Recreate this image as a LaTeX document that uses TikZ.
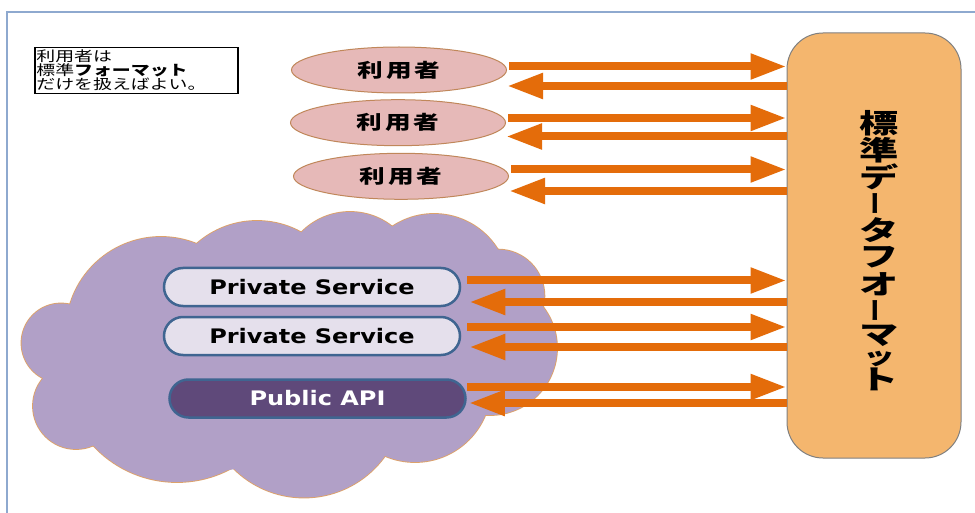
\documentclass[tikz,border=0pt]{standalone}
\usepackage{fontspec}
\usepackage{graphicx}
\usetikzlibrary{arrows.meta,shapes.geometric}

% Fonts: wide Gothic for the Japanese labels, DejaVu for the Latin ones
\newfontfamily\cjk[FakeStretch=1.35]{Noto Sans CJK JP}
\newfontfamily\cjkwide[FakeStretch=1.45]{Noto Sans CJK JP}
\newfontfamily\cjkplain{Noto Sans CJK JP}
\newfontfamily\latin[FakeStretch=1.2]{DejaVu Sans}

\definecolor{arrowc}{HTML}{E46C0A}
\definecolor{userfill}{HTML}{E6B9B8}
\definecolor{userline}{HTML}{C0875A}
\definecolor{fmtfill}{HTML}{F4B66E}
\definecolor{fmtline}{HTML}{808080}
\definecolor{cloudfill}{HTML}{B1A0C7}
\definecolor{cloudline}{HTML}{DDA26A}
\definecolor{svcfill}{HTML}{E5E0EC}
\definecolor{svcline}{HTML}{3F6591}
\definecolor{apifill}{HTML}{5F497A}
\definecolor{framec}{HTML}{8EA9CF}

% vertical long-vowel mark for the upright column
\newcommand\tatebar{\rotatebox[origin=c]{90}{\cjkplain\fontsize{24}{24}\selectfont ー}}
% one cell of the upright column: cell height, glyph
\newcommand\vcell[2]{\hbox to 44pt{\hss\vbox to #1{\vss\hbox{#2}\vss}\hss}}

% puffs of the cloud: centre x, centre y, radius
\newcommand\puffs{161/332/95, 257/312/91, 350/280/68, 434/289/75,
  498/296/46.4, 490/348/67, 415/386/76, 304/398/99.5, 177/368/114,
  76/406/43, 61/343/39.5}

\tikzset{
  user/.style={ellipse, draw=userline, fill=userfill, line width=1pt,
    minimum width=215pt, minimum height=46pt, inner sep=0pt,
    font=\cjk\bfseries\fontsize{19}{19}\selectfont},
  svc/.style={rectangle, rounded corners=19pt, draw=svcline, fill=svcfill,
    line width=2.5pt, minimum width=296pt, minimum height=38pt, inner sep=0pt,
    font=\latin\bfseries\fontsize{20}{20}\selectfont},
  api/.style={svc, fill=apifill, text=white},
  fmtbox/.style={rectangle, rounded corners=36pt, draw=fmtline, fill=fmtfill,
    line width=1pt, minimum width=174pt, minimum height=425pt},
  vtext/.style={inner sep=0pt,
    font=\cjkwide\bfseries\fontsize{27}{27}\selectfont},
  flow/.style={draw=arrowc, line width=8pt, -{Triangle[length=36pt,width=24pt]}},
  notebox/.style={draw, line width=1.2pt, anchor=north west, minimum width=203pt,
    minimum height=46.6pt, inner xsep=1pt, inner ysep=0pt, text width=200pt,
    align=left, font=\cjk\fontsize{14}{14}\selectfont}
}

\begin{document}
\begin{tikzpicture}[x=1pt,y=-1pt]
\useasboundingbox (0,0) rectangle (975,513);
\fill[white] (0,0) rectangle (975,513);

% page frame (top and left edges)
\draw[framec, line width=1.5pt] (975,12) -- (7,12) -- (7,513);

% note
\node[notebox] (note) at (34.3,46.7)
  {利用者は\\標準{\bfseries フォーマット}\\だけを扱えばよい。};

% cloud: stroke every puff, then fill them all so only the outer rim stays
\foreach \cx/\cy/\r in \puffs
  \draw[cloudline, line width=1.8pt] (\cx,\cy) circle[radius=\r];
\foreach \cx/\cy/\r in \puffs
  \fill[cloudfill] (\cx,\cy) circle[radius=\r];
\fill[cloudfill] (70,307) -- (196,244) -- (302,233) -- (392,227) -- (498,250)
  -- (542,312) -- (487,410) -- (377,455) -- (227,470) -- (95,446) -- (48,380)
  -- cycle;

% users
\node[user] (u1) at (399,70) {利\hspace{3pt}用\hspace{3pt}者};
\node[user] (u2) at (398,122.7) {利\hspace{3pt}用\hspace{3pt}者};
\node[user] (u3) at (401,176.3) {利\hspace{3pt}用\hspace{3pt}者};

% services inside the cloud
\node[svc] (ps1) at (312,287) {Private Service};
\node[svc] (ps2) at (312,336) {Private Service};
\node[api] (api) at (317.5,398.5) {Public API};

% standard data format
\node[fmtbox] (fmt) at (874,245.5) {};
\node[vtext, anchor=north] (fmttext) at (879,110) {\vbox{\offinterlineskip
  \vcell{26.7pt}{標}\vcell{26.7pt}{準}\vcell{26.7pt}{デ}\vcell{26.7pt}{\tatebar}%
  \vcell{26.7pt}{タ}\vcell{26.7pt}{フ}\vcell{26.7pt}{オ}\vcell{26.7pt}{\tatebar}%
  \vcell{24pt}{マ}\vcell{22pt}{\fontsize{22}{22}\selectfont ッ}\vcell{20pt}{ト}}};

% exchanges with the users
\draw[flow, shorten <=2pt] (u1.east |- 0,66.5) -- (fmt.west |- 0,66.5);
\draw[flow] (fmt.west |- 0,86) -- (u1.east |- 0,86);
\draw[flow, shorten <=2pt] (u2.east |- 0,118) -- (fmt.west |- 0,118);
\draw[flow] (fmt.west |- 0,136.5) -- (u2.east |- 0,136.5);
\draw[flow, shorten <=2pt] (u3.east |- 0,169.5) -- (fmt.west |- 0,169.5);
\draw[flow] (fmt.west |- 0,191) -- (u3.east |- 0,191);

% exchanges with the services
\draw[flow, shorten <=6pt] (ps1.east |- 0,280.5) -- (fmt.west |- 0,280.5);
\draw[flow, shorten >=8pt] (fmt.west |- 0,302) -- (ps1.east |- 0,302);
\draw[flow, shorten <=6pt] (ps2.east |- 0,327) -- (fmt.west |- 0,327);
\draw[flow, shorten >=8pt] (fmt.west |- 0,347) -- (ps2.east |- 0,347);
\draw[flow] (api.east |- 0,387) -- (fmt.west |- 0,387);
\draw[flow, shorten >=2pt] (fmt.west |- 0,403) -- (api.east |- 0,403);
\end{tikzpicture}
\end{document}
